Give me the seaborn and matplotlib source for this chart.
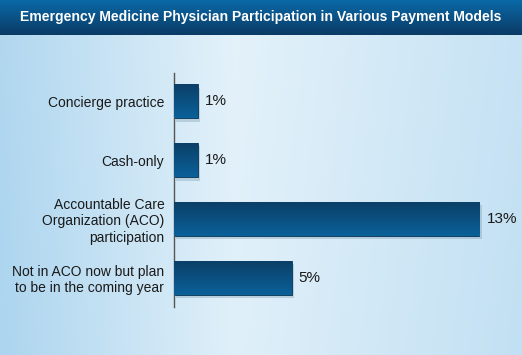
import numpy as np
import pandas as pd
import matplotlib
matplotlib.use("Agg")
import matplotlib.pyplot as plt
import seaborn as sns
from matplotlib.colors import LinearSegmentedColormap

categories = ["Concierge practice", "Cash-only",
              "Accountable Care\nOrganization (ACO)\nparticipation",
              "Not in ACO now but plan\nto be in the coming year"]
values = [1, 1, 13, 5]
value_labels = ["1%", "1%", "13%", "5%"]
title = "Emergency Medicine Physician Participation in Various Payment Models"

df = pd.DataFrame({"category": categories, "value": values})

sns.set_theme(style="white")
plt.rcParams['font.family'] = ['Liberation Sans', 'DejaVu Sans']

W, H = 522, 355
fig = plt.figure(figsize=(W / 100, H / 100), dpi=100)

# background gradient
bg = fig.add_axes([0, 0, 1, 1], zorder=0)
bg.set_axis_off()
xx = np.linspace(0, 1, 200)
yy = np.linspace(0, 1, 100)
X, Y = np.meshgrid(xx, yy)
d = np.where(X < 0.45, (0.45 - X) * 1.9, (X - 0.45) * 0.9)
t = np.clip(1 - d - (1 - Y) * 0.08, 0, 1)
bgcmap = LinearSegmentedColormap.from_list("bg", ["#a9d3ee", "#e4f2fa"])
bg.imshow(t, cmap=bgcmap, extent=[0, 1, 0, 1], aspect="auto", origin="lower", vmin=0, vmax=1)
# title bar gradient
tb = np.linspace(0, 1, 50).reshape(-1, 1)
tbcmap = LinearSegmentedColormap.from_list("tb", ["#0b3b66", "#0a69a7"])
bar_h = 35 / H
bg.imshow(tb, cmap=tbcmap, extent=[0, 1, 1 - bar_h, 1], aspect="auto", origin="lower")
bg.set_xlim(0, 1)
bg.set_ylim(0, 1)
bg.text(0.5, 1 - bar_h / 2, title, color="white", ha="center", va="center",
        fontsize=10.1, fontweight="bold")

# main axes
left = 174 / W
right = (174 + 23.5 * 14) / W
bottom = (H - 307) / H
top = (H - 73) / H
ax = fig.add_axes([left, bottom, right - left, top - bottom], zorder=1)
ax.patch.set_alpha(0)
sns.barplot(data=df, x="value", y="category", orient="h", ax=ax,
            color="#0b5285", width=0.58, saturation=1)

gcmap = LinearSegmentedColormap.from_list("bar", ["#0b3e66", "#0a6199"])
grad = np.linspace(0, 1, 50).reshape(-1, 1)
for p in list(ax.patches):
    x0, y0 = p.get_x(), p.get_y()
    w, h = p.get_width(), p.get_height()
    ax.add_patch(plt.Rectangle((x0 + 0.1, y0 + 0.06), w, h, color="#6a8aa0",
                               alpha=0.3, zorder=1, linewidth=0))
    im = ax.imshow(grad, cmap=gcmap, extent=[x0, x0 + w, y0 + h, y0],
                   aspect="auto", origin="upper", zorder=3)
    p.set_zorder(2)
    im.set_clip_path(p)
    p.set_edgecolor("#083356")
    p.set_linewidth(0.6)
ax.set_xlim(0, 14)
ax.set_ylim(3.5, -0.48)

for i, (v, lab) in enumerate(zip(values, value_labels)):
    ax.text(v + 0.3, i, lab, va="center", ha="left", fontsize=11, color="#1a1a1a")

ax.set_xlabel("")
ax.set_ylabel("")
ax.set_xticks([])
ax.tick_params(axis="y", length=0, pad=7, labelsize=10, labelcolor="#1a1a1a")
for lab in ax.get_yticklabels():
    lab.set_multialignment("right")
for s in ["top", "right", "bottom"]:
    ax.spines[s].set_visible(False)
ax.spines["left"].set_color("#555555")
ax.spines["left"].set_linewidth(1.0)

fig.savefig("out.png", dpi=100)
